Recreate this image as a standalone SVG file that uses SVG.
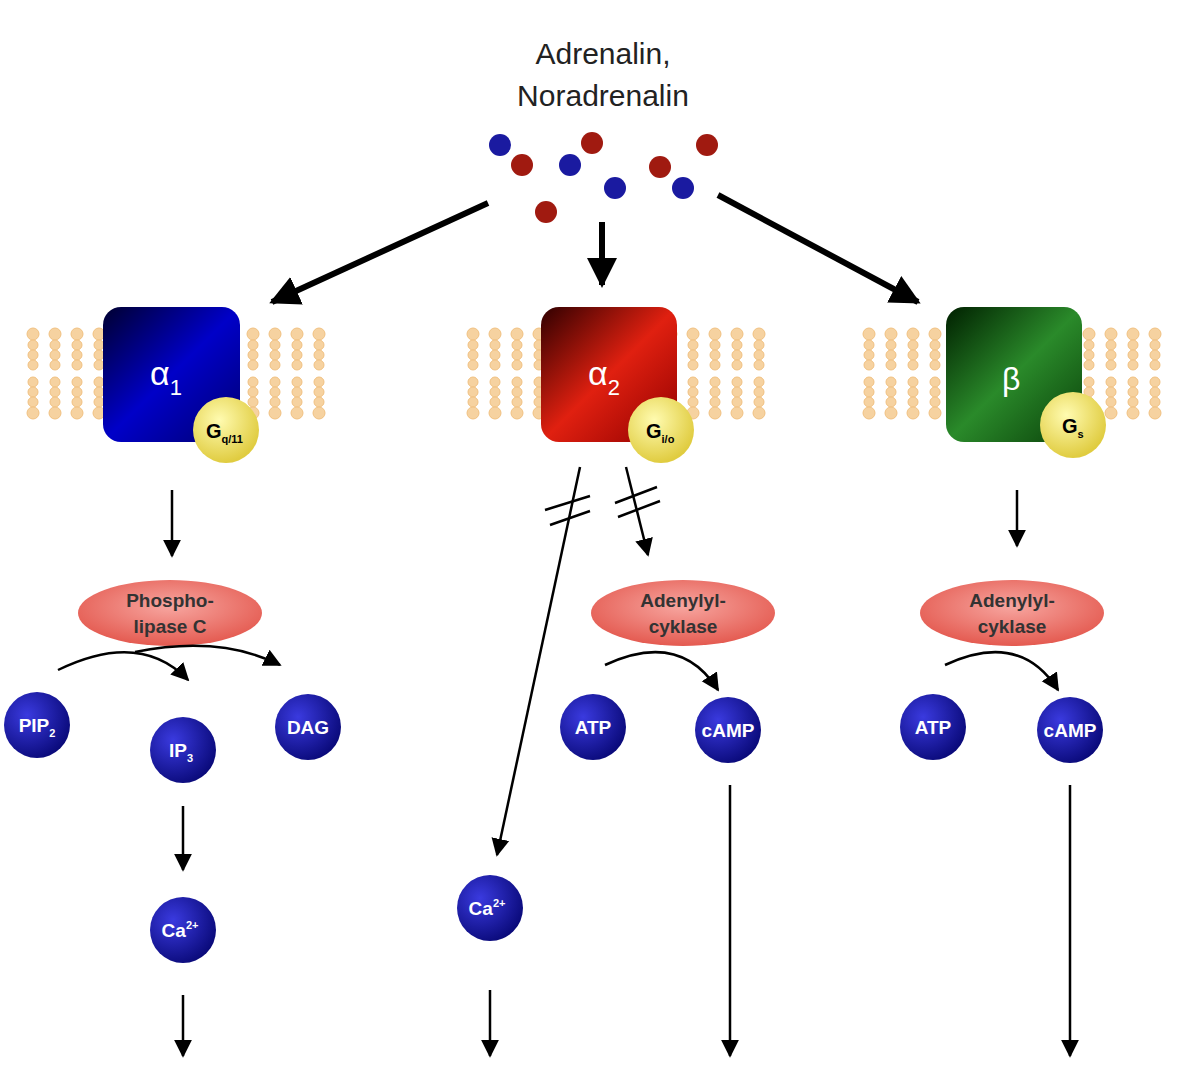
<svg xmlns="http://www.w3.org/2000/svg" width="1204" height="1084" viewBox="0 0 1204 1084">
<defs>
<marker id="ahs" viewBox="0 0 10 10" refX="9" refY="5" markerWidth="18" markerHeight="22" orient="auto" markerUnits="userSpaceOnUse"><path d="M0,0 L10,5 L0,10 z" fill="#000"/></marker>
<marker id="ahb" viewBox="0 0 10 10" refX="9" refY="5" markerWidth="30" markerHeight="30" orient="auto" markerUnits="userSpaceOnUse"><path d="M0,0 L10,5 L0,10 z" fill="#000"/></marker>
<radialGradient id="gb" cx="35%" cy="35%" r="70%"><stop offset="0" stop-color="#3a3adf"/><stop offset="1" stop-color="#0a0a7a"/></radialGradient>
<radialGradient id="gy" cx="40%" cy="35%" r="65%"><stop offset="0" stop-color="#fffbb0"/><stop offset="1" stop-color="#e0cc40"/></radialGradient>
<radialGradient id="gp" cx="50%" cy="40%" r="60%"><stop offset="0" stop-color="#f7a6a0"/><stop offset="1" stop-color="#e45a50"/></radialGradient>
<linearGradient id="rb" x1="0" y1="0" x2="1" y2="1"><stop offset="0" stop-color="#000030"/><stop offset="0.5" stop-color="#0000c8"/><stop offset="1" stop-color="#000070"/></linearGradient>
<linearGradient id="rr" x1="0" y1="0" x2="1" y2="1"><stop offset="0" stop-color="#300000"/><stop offset="0.5" stop-color="#e02010"/><stop offset="1" stop-color="#900000"/></linearGradient>
<linearGradient id="rg" x1="0" y1="0" x2="1" y2="1"><stop offset="0" stop-color="#002000"/><stop offset="0.5" stop-color="#2a8a2a"/><stop offset="1" stop-color="#0a400a"/></linearGradient>
<pattern id="lip" x="0" y="327" width="22" height="95" patternUnits="userSpaceOnUse">
<g fill="#f6d2a0" stroke="#f0c080" stroke-width="1">
<circle cx="11" cy="7" r="6"/><circle cx="11" cy="18" r="5"/><circle cx="11" cy="28" r="5"/><circle cx="11" cy="38" r="5"/>
<circle cx="11" cy="55" r="5"/><circle cx="11" cy="65" r="5"/><circle cx="11" cy="75" r="5"/><circle cx="11" cy="86" r="6"/>
</g></pattern>
<style>
.t{font-family:"Liberation Sans",Arial,sans-serif}
.w{fill:#fff;font-weight:bold;font-size:19px}
.ln{stroke:#000;stroke-width:2.5;fill:none}
.big{stroke:#000;stroke-width:6;fill:none}
.pl{font-weight:bold;font-size:19px;fill:#333}
</style>
</defs>
<rect width="1204" height="1084" fill="#fff"/>
<g id="title"><text class="t" x="603" y="64" text-anchor="middle" font-size="30" fill="#222">Adrenalin,</text><text class="t" x="603" y="106" text-anchor="middle" font-size="30" fill="#222">Noradrenalin</text></g>
<g id="molecules">
<g fill="#1a1aa0"><circle cx="500" cy="145" r="11"/><circle cx="570" cy="165" r="11"/><circle cx="615" cy="188" r="11"/><circle cx="683" cy="188" r="11"/></g>
<g fill="#a01a10"><circle cx="522" cy="165" r="11"/><circle cx="592" cy="143" r="11"/><circle cx="546" cy="212" r="11"/><circle cx="660" cy="167" r="11"/><circle cx="707" cy="145" r="11"/></g>
</g>
<g id="membranes">
<rect x="22" y="327" width="308" height="95" fill="url(#lip)"/>
<rect x="462" y="327" width="308" height="95" fill="url(#lip)"/>
<rect x="858" y="327" width="308" height="95" fill="url(#lip)"/>
</g>
<g id="alpha1"><rect x="103" y="307" width="137" height="135" rx="18" fill="url(#rb)"/><text class="t" x="150" y="385" fill="#fff" font-size="34">α<tspan font-size="22" dy="10">1</tspan></text>
<circle cx="226" cy="430" r="33" fill="url(#gy)"/><text class="t" x="206" y="438" font-size="20" font-weight="bold">G<tspan font-size="11" dy="5">q/11</tspan></text></g>
<g id="alpha2"><rect x="541" y="307" width="136" height="135" rx="18" fill="url(#rr)"/><text class="t" x="588" y="385" fill="#fff" font-size="34">α<tspan font-size="22" dy="10">2</tspan></text>
<circle cx="661" cy="430" r="33" fill="url(#gy)"/><text class="t" x="646" y="438" font-size="20" font-weight="bold">G<tspan font-size="11" dy="5">i/o</tspan></text></g>
<g id="beta"><rect x="946" y="307" width="136" height="135" rx="18" fill="url(#rg)"/><text class="t" x="1002" y="390" fill="#fff" font-size="32">β</text>
<circle cx="1073" cy="425" r="33" fill="url(#gy)"/><text class="t" x="1062" y="433" font-size="20" font-weight="bold">G<tspan font-size="11" dy="5">s</tspan></text></g>
<g id="plc"><ellipse cx="170" cy="613" rx="92" ry="33" fill="url(#gp)"/><text class="t pl" x="170" y="607" text-anchor="middle">Phospho-</text><text class="t pl" x="170" y="633" text-anchor="middle">lipase C</text></g>
<g id="ac1"><ellipse cx="683" cy="613" rx="92" ry="33" fill="url(#gp)"/><text class="t pl" x="683" y="607" text-anchor="middle">Adenylyl-</text><text class="t pl" x="683" y="633" text-anchor="middle">cyklase</text></g>
<g id="ac2"><ellipse cx="1012" cy="613" rx="92" ry="33" fill="url(#gp)"/><text class="t pl" x="1012" y="607" text-anchor="middle">Adenylyl-</text><text class="t pl" x="1012" y="633" text-anchor="middle">cyklase</text></g>
<g id="pip2"><circle cx="37" cy="725" r="33" fill="url(#gb)"/><text class="t w" x="37" y="732" text-anchor="middle">PIP<tspan font-size="11" dy="5">2</tspan></text></g>
<g id="ip3"><circle cx="183" cy="750" r="33" fill="url(#gb)"/><text class="t w" x="181" y="757" text-anchor="middle">IP<tspan font-size="11" dy="5">3</tspan></text></g>
<g id="dag"><circle cx="308" cy="727" r="33" fill="url(#gb)"/><text class="t w" x="308" y="734" text-anchor="middle">DAG</text></g>
<g id="atp1"><circle cx="593" cy="727" r="33" fill="url(#gb)"/><text class="t w" x="593" y="734" text-anchor="middle">ATP</text></g>
<g id="camp1"><circle cx="728" cy="730" r="33" fill="url(#gb)"/><text class="t w" x="728" y="737" text-anchor="middle">cAMP</text></g>
<g id="atp2"><circle cx="933" cy="727" r="33" fill="url(#gb)"/><text class="t w" x="933" y="734" text-anchor="middle">ATP</text></g>
<g id="camp2"><circle cx="1070" cy="730" r="33" fill="url(#gb)"/><text class="t w" x="1070" y="737" text-anchor="middle">cAMP</text></g>
<g id="ca1"><circle cx="183" cy="930" r="33" fill="url(#gb)"/><text class="t w" x="180" y="937" text-anchor="middle">Ca<tspan font-size="11" dy="-8">2+</tspan></text></g>
<g id="ca2"><circle cx="490" cy="908" r="33" fill="url(#gb)"/><text class="t w" x="487" y="915" text-anchor="middle">Ca<tspan font-size="11" dy="-8">2+</tspan></text></g>
<g id="connectors">
<path class="big" d="M488,203 L272,302" marker-end="url(#ahb)"/>
<path class="big" d="M602,222 L602,285" marker-end="url(#ahb)"/>
<path class="big" d="M718,195 L918,302" marker-end="url(#ahb)"/>
<path class="ln" d="M172,490 L172,556" marker-end="url(#ahs)"/>
<path class="ln" d="M1017,490 L1017,546" marker-end="url(#ahs)"/>
<path class="ln" d="M58,670 Q140,630 188,680" marker-end="url(#ahs)"/>
<path class="ln" d="M135,652 Q220,635 280,665" marker-end="url(#ahs)"/>
<path class="ln" d="M605,665 Q680,630 718,690" marker-end="url(#ahs)"/>
<path class="ln" d="M945,665 Q1020,630 1058,690" marker-end="url(#ahs)"/>
<path class="ln" d="M580,467 L497,855" marker-end="url(#ahs)"/>
<path class="ln" d="M545,510 L590,496 M550,525 L590,511"/>
<path class="ln" d="M626,467 L648,555" marker-end="url(#ahs)"/>
<path class="ln" d="M615,503 L657,487 M618,517 L660,501"/>
<path class="ln" d="M183,806 L183,870" marker-end="url(#ahs)"/>
<path class="ln" d="M183,995 L183,1056" marker-end="url(#ahs)"/>
<path class="ln" d="M490,990 L490,1056" marker-end="url(#ahs)"/>
<path class="ln" d="M730,785 L730,1056" marker-end="url(#ahs)"/>
<path class="ln" d="M1070,785 L1070,1056" marker-end="url(#ahs)"/>
</g>
</svg>
